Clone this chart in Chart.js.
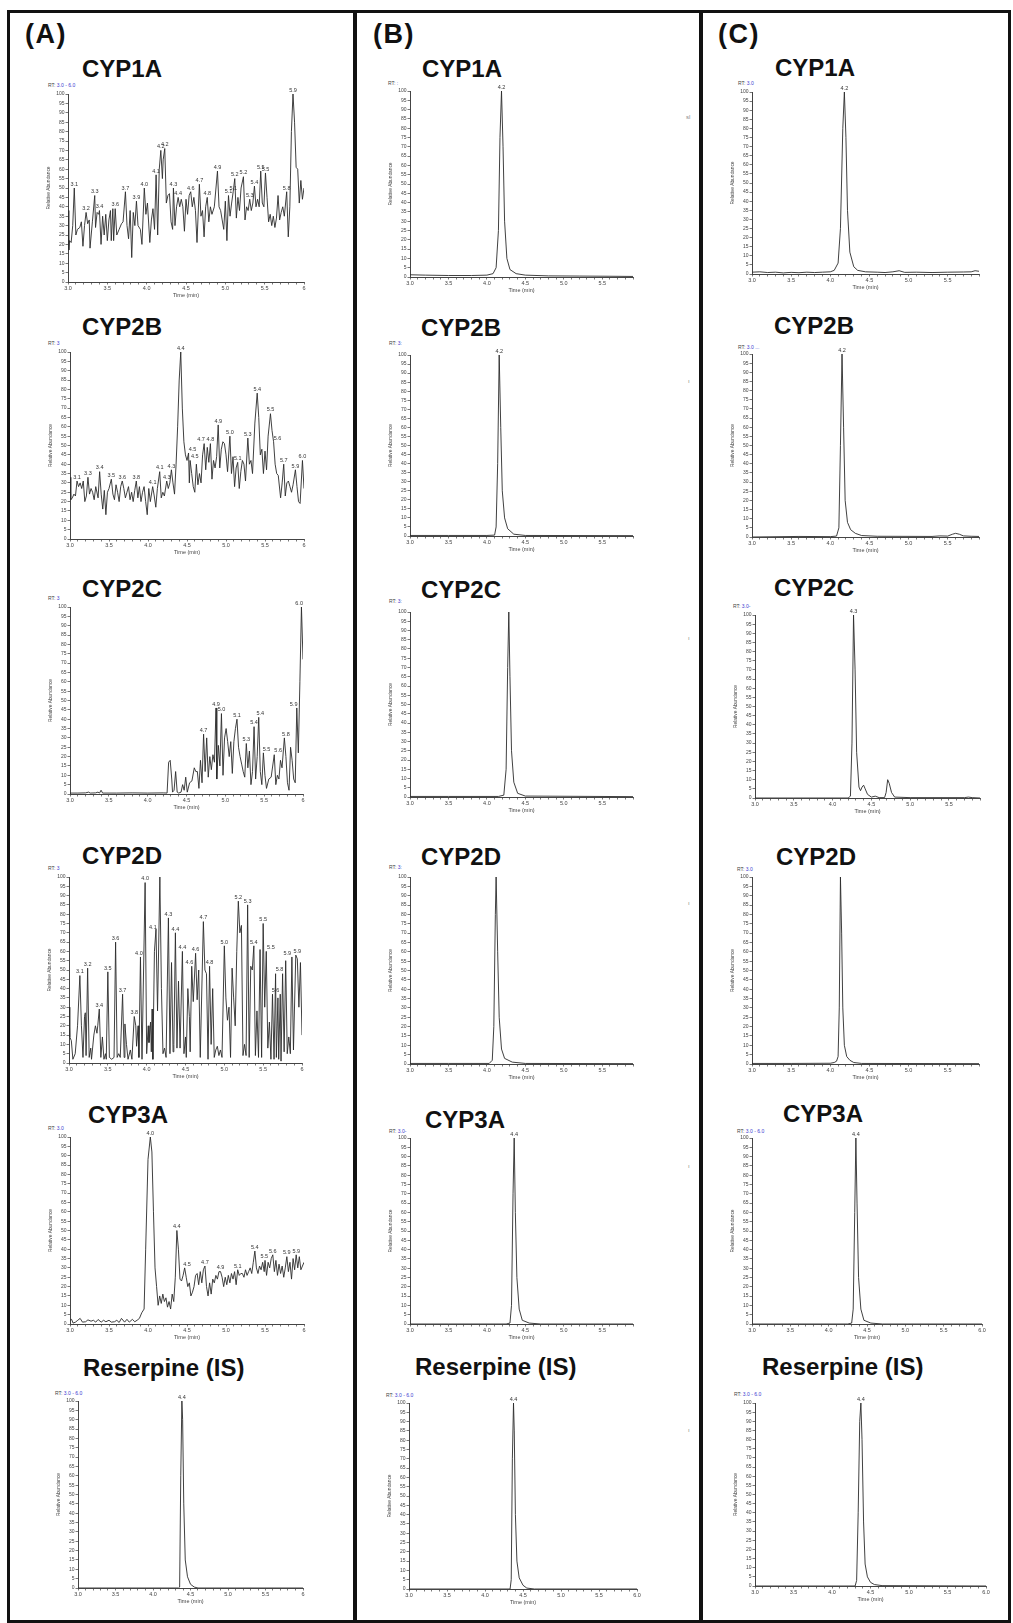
<!DOCTYPE html>
<html>
<head>
<meta charset="utf-8">
<title>Cromatogramas CYP</title>
<script src="https://cdn.jsdelivr.net/npm/chart.js@4.4.1/dist/chart.umd.min.js"></script>
<style>
  html, body { margin: 0; padding: 0; background: #fff; }
  #fig { position: relative; width: 1013px; height: 1623px; overflow: hidden; font-family: "Liberation Sans", Arial, sans-serif; }
  .linea { position: absolute; background: #111; }
  .letra { position: absolute; font-weight: bold; font-size: 27px; letter-spacing: 1.5px; color: #111; line-height: 1; transform: translateY(-50%); }
  .titulo { position: absolute; font-weight: bold; font-size: 24px; color: #111; line-height: 1; transform: translateY(-50%); white-space: nowrap; }
  .rt { position: absolute; font-size: 5px; color: #444; line-height: 1; transform: translateY(-50%); white-space: nowrap; }
  .rt span { color: #3a3ad0; }
  .marca { position: absolute; font-size: 6px; color: #888; line-height: 1; }
  canvas { position: absolute; }
</style>
</head>
<body>
<div id="fig"></div>
<script>
// ============================
// DATOS
// ============================
const columnas = ["(A)", "(B)", "(C)"];
const titulos = ["CYP1A", "CYP2B", "CYP2C", "CYP2D", "CYP3A", "Reserpine (IS)"];
const etiquetasXA = ["3.0", "3.5", "4.0", "4.5", "5.0", "5.5", "6"];
const etiquetasXBC = ["3.0", "3.5", "4.0", "4.5", "5.0", "5.5", "6.0"];

// --- Columna A
const datosA_CYP1A = [[3.00,38],[3.01,17],[3.02,22],[3.04,21],[3.06,30],[3.08,50],[3.10,25],[3.12,28],[3.15,29],[3.17,32],[3.19,19],[3.21,30],[3.23,37],[3.25,31],[3.27,33],[3.28,18],[3.31,32],[3.34,46],[3.35,29],[3.37,37],[3.39,36],[3.40,38],[3.42,20],[3.44,35],[3.46,25],[3.48,36],[3.50,22],[3.52,33],[3.54,38],[3.55,22],[3.57,39],[3.58,22],[3.60,39],[3.62,25],[3.65,28],[3.68,31],[3.70,32],[3.73,48],[3.75,30],[3.77,23],[3.79,38],[3.81,13],[3.83,37],[3.85,30],[3.87,43],[3.89,30],[3.92,28],[3.94,20],[3.97,50],[3.99,36],[4.01,42],[4.04,21],[4.06,33],[4.08,39],[4.10,28],[4.12,57],[4.14,25],[4.16,60],[4.18,70],[4.20,55],[4.21,65],[4.23,71],[4.25,42],[4.27,46],[4.29,47],[4.31,32],[4.33,28],[4.34,50],[4.36,30],[4.38,40],[4.40,45],[4.42,40],[4.44,44],[4.46,40],[4.48,27],[4.50,44],[4.52,36],[4.54,46],[4.56,48],[4.58,40],[4.60,45],[4.62,38],[4.64,21],[4.67,52],[4.69,35],[4.71,38],[4.73,24],[4.75,40],[4.77,45],[4.79,32],[4.81,40],[4.83,36],[4.86,40],[4.90,59],[4.92,40],[4.94,38],[4.96,33],[4.98,28],[5.00,43],[5.02,22],[5.04,46],[5.06,35],[5.08,42],[5.10,48],[5.12,55],[5.14,34],[5.16,45],[5.18,38],[5.20,50],[5.23,56],[5.25,33],[5.27,40],[5.29,38],[5.31,44],[5.33,38],[5.35,42],[5.37,51],[5.39,40],[5.41,44],[5.43,40],[5.45,59],[5.47,42],[5.49,40],[5.51,58],[5.53,45],[5.55,32],[5.57,36],[5.59,30],[5.61,35],[5.63,29],[5.65,34],[5.67,46],[5.69,33],[5.71,37],[5.73,40],[5.75,35],[5.78,48],[5.80,24],[5.82,40],[5.84,80],[5.86,100],[5.88,85],[5.90,61],[5.92,60],[5.94,42],[5.96,54],[5.98,44],[6.00,50]];
const picosA_CYP1A = [[3.08,50,"3.1"],[3.23,37,"3.2"],[3.34,46,"3.3"],[3.40,38,"3.4"],[3.60,39,"3.6"],[3.73,48,"3.7"],[3.87,43,"3.9"],[3.97,50,"4.0"],[4.12,57,"4.1"],[4.18,70,"4.2"],[4.23,71,"4.2"],[4.34,50,"4.3"],[4.40,45,"4.4"],[4.56,48,"4.6"],[4.67,52,"4.7"],[4.77,45,"4.8"],[4.90,59,"4.9"],[5.04,46,"5.1"],[5.10,48,"5.1"],[5.12,55,"5.2"],[5.23,56,"5.2"],[5.31,44,"5.3"],[5.37,51,"5.4"],[5.45,59,"5.5"],[5.51,58,"5.5"],[5.78,48,"5.8"],[5.86,100,"5.9"]];

const datosA_CYP2B = [[3.00,33],[3.01,21],[3.03,22],[3.05,24],[3.07,23],[3.09,31],[3.11,28],[3.13,30],[3.15,27],[3.17,31],[3.19,20],[3.21,23],[3.23,33],[3.25,24],[3.27,27],[3.29,25],[3.31,21],[3.33,28],[3.36,22],[3.38,36],[3.40,24],[3.42,16],[3.44,26],[3.46,13],[3.48,25],[3.50,27],[3.53,32],[3.55,24],[3.57,21],[3.59,29],[3.61,25],[3.63,20],[3.65,28],[3.67,31],[3.69,27],[3.71,22],[3.73,25],[3.75,28],[3.77,21],[3.79,25],[3.81,20],[3.83,26],[3.85,31],[3.87,22],[3.89,28],[3.91,20],[3.93,25],[3.95,28],[3.97,20],[3.99,13],[4.01,27],[4.03,20],[4.06,28],[4.08,23],[4.10,17],[4.12,27],[4.15,36],[4.17,22],[4.19,25],[4.21,23],[4.24,31],[4.26,27],[4.28,30],[4.30,37],[4.32,30],[4.34,24],[4.36,40],[4.38,60],[4.40,85],[4.42,100],[4.44,70],[4.46,52],[4.48,45],[4.50,42],[4.52,46],[4.53,30],[4.54,42],[4.56,35],[4.58,28],[4.60,25],[4.62,40],[4.64,29],[4.66,35],[4.68,30],[4.70,45],[4.72,51],[4.74,37],[4.76,49],[4.78,41],[4.80,51],[4.82,32],[4.84,42],[4.86,38],[4.88,44],[4.90,61],[4.92,38],[4.94,48],[4.96,52],[4.98,51],[5.00,45],[5.02,36],[5.05,55],[5.07,35],[5.09,44],[5.11,28],[5.13,38],[5.15,41],[5.17,27],[5.19,36],[5.21,42],[5.23,40],[5.25,31],[5.28,54],[5.30,40],[5.32,42],[5.34,35],[5.37,62],[5.40,78],[5.42,65],[5.44,45],[5.46,48],[5.48,35],[5.50,47],[5.52,37],[5.54,55],[5.57,67],[5.59,58],[5.61,52],[5.63,40],[5.65,35],[5.67,34],[5.70,22],[5.72,30],[5.74,40],[5.76,23],[5.78,30],[5.80,31],[5.82,28],[5.84,25],[5.86,29],[5.89,37],[5.91,28],[5.93,20],[5.95,19],[5.98,42],[6.00,27]];
const picosA_CYP2B = [[3.09,31,"3.1"],[3.23,33,"3.3"],[3.38,36,"3.4"],[3.53,32,"3.5"],[3.67,31,"3.6"],[3.85,31,"3.8"],[4.06,28,"4.1"],[4.15,36,"4.1"],[4.24,31,"4.3"],[4.30,37,"4.3"],[4.42,100,"4.4"],[4.57,46,"4.5"],[4.60,42,"4.5"],[4.68,51,"4.7"],[4.80,51,"4.8"],[4.90,61,"4.9"],[5.05,55,"5.0"],[5.15,41,"5.1"],[5.28,54,"5.3"],[5.40,78,"5.4"],[5.57,67,"5.5"],[5.66,52,"5.6"],[5.74,40,"5.7"],[5.89,37,"5.9"],[5.98,42,"6.0"]];

const datosA_CYP2C = [[3.00,0.5],[3.10,0.5],[3.20,0.6],[3.24,1],[3.26,0.5],[3.33,0.6],[3.36,1],[3.38,0.5],[3.40,2],[3.42,0.5],[3.60,0.5],[3.80,0.6],[4.00,0.5],[4.20,0.6],[4.25,0.5],[4.27,17],[4.29,18],[4.31,8],[4.32,1],[4.34,2],[4.36,12],[4.38,1],[4.40,0.5],[4.43,1],[4.45,5],[4.47,2],[4.49,9],[4.51,1],[4.54,6],[4.57,7],[4.60,14],[4.62,12],[4.64,12],[4.66,3],[4.68,18],[4.70,6],[4.72,32],[4.74,12],[4.76,30],[4.78,9],[4.80,20],[4.82,13],[4.84,21],[4.86,17],[4.88,46],[4.89,8],[4.91,26],[4.93,15],[4.95,43],[4.97,10],[4.99,30],[5.01,35],[5.03,28],[5.05,20],[5.07,28],[5.09,11],[5.11,28],[5.13,35],[5.15,40],[5.17,25],[5.19,20],[5.21,16],[5.23,12],[5.25,9],[5.27,27],[5.29,14],[5.31,23],[5.33,5],[5.35,12],[5.37,36],[5.39,8],[5.41,20],[5.43,41],[5.45,12],[5.47,5],[5.49,22],[5.51,10],[5.53,3],[5.56,8],[5.59,9],[5.63,21],[5.65,5],[5.67,10],[5.69,8],[5.71,18],[5.73,14],[5.76,30],[5.78,20],[5.80,6],[5.82,2],[5.84,25],[5.86,18],[5.88,8],[5.90,6],[5.92,46],[5.94,22],[5.96,60],[5.98,100],[6.00,72]];
const picosA_CYP2C = [[4.72,32,"4.7"],[4.88,46,"4.9"],[4.95,43,"5.0"],[5.15,40,"5.1"],[5.27,27,"5.3"],[5.37,36,"5.4"],[5.45,41,"5.4"],[5.53,22,"5.5"],[5.68,21,"5.6"],[5.78,30,"5.8"],[5.88,46,"5.9"],[5.95,100,"6.0"]];

const datosA_CYP2D = [[3.00,30],[3.01,14],[3.03,12],[3.05,2],[3.08,5],[3.11,20],[3.14,47],[3.16,20],[3.18,3],[3.20,25],[3.21,27],[3.22,4],[3.24,51],[3.26,3],[3.28,8],[3.29,2],[3.32,15],[3.34,20],[3.36,16],[3.37,20],[3.39,29],[3.41,3],[3.43,14],[3.45,2],[3.47,5],[3.48,2],[3.50,49],[3.52,3],[3.55,2],[3.58,3],[3.60,65],[3.62,3],[3.64,5],[3.66,3],[3.69,37],[3.71,3],[3.72,21],[3.74,10],[3.76,2],[3.79,7],[3.81,2],[3.84,25],[3.86,20],[3.87,9],[3.89,20],[3.90,3],[3.92,57],[3.94,2],[3.98,97],[4.00,5],[4.02,20],[4.03,11],[4.05,22],[4.06,6],[4.07,29],[4.08,2],[4.10,60],[4.12,72],[4.14,28],[4.17,100],[4.19,40],[4.21,5],[4.23,8],[4.25,3],[4.28,78],[4.30,5],[4.32,54],[4.34,6],[4.35,10],[4.37,70],[4.39,8],[4.41,44],[4.43,8],[4.46,60],[4.48,5],[4.50,14],[4.51,3],[4.53,40],[4.55,25],[4.56,6],[4.58,52],[4.60,33],[4.63,59],[4.65,34],[4.67,50],[4.69,3],[4.73,76],[4.75,50],[4.77,48],[4.79,2],[4.81,52],[4.83,10],[4.85,40],[4.87,3],[4.89,7],[4.91,9],[4.93,4],[4.95,7],[4.97,3],[5.00,63],[5.02,35],[5.04,23],[5.06,30],[5.08,3],[5.10,51],[5.12,35],[5.14,20],[5.16,60],[5.18,87],[5.20,70],[5.22,74],[5.24,4],[5.26,10],[5.28,4],[5.30,85],[5.32,3],[5.34,52],[5.36,50],[5.38,63],[5.40,4],[5.42,28],[5.44,3],[5.46,61],[5.48,3],[5.50,75],[5.52,30],[5.54,60],[5.56,8],[5.58,22],[5.60,2],[5.62,37],[5.64,2],[5.66,48],[5.67,3],[5.69,35],[5.70,2],[5.72,37],[5.73,1],[5.75,48],[5.77,6],[5.79,55],[5.81,5],[5.83,14],[5.85,5],[5.87,57],[5.89,7],[5.92,58],[5.94,56],[5.96,30],[5.98,54],[6.00,15]];
const picosA_CYP2D = [[3.14,47,"3.1"],[3.24,51,"3.2"],[3.39,29,"3.4"],[3.50,49,"3.5"],[3.60,65,"3.6"],[3.69,37,"3.7"],[3.84,25,"3.8"],[3.90,57,"4.0"],[3.98,97,"4.0"],[4.08,71,"4.1"],[4.28,78,"4.3"],[4.37,70,"4.4"],[4.46,60,"4.4"],[4.55,52,"4.6"],[4.63,59,"4.6"],[4.73,76,"4.7"],[4.81,52,"4.8"],[5.00,63,"5.0"],[5.18,87,"5.2"],[5.30,85,"5.3"],[5.38,63,"5.4"],[5.50,75,"5.5"],[5.60,60,"5.5"],[5.66,37,"5.6"],[5.71,48,"5.8"],[5.81,57,"5.9"],[5.94,58,"5.9"]];

const datosA_CYP3A = [[3.00,2],[3.02,2.5],[3.04,0.5],[3.07,1],[3.10,2],[3.13,3],[3.16,1],[3.20,1.2],[3.23,2.2],[3.27,1.5],[3.30,2],[3.33,1],[3.36,2.4],[3.40,1],[3.43,2],[3.46,1.2],[3.50,2],[3.53,1],[3.57,1.2],[3.60,2],[3.63,0.8],[3.66,3],[3.70,1],[3.73,2.5],[3.76,1],[3.80,2.5],[3.83,1.2],[3.86,2],[3.89,3],[3.92,6],[3.95,8],[3.97,40],[4.00,88],[4.03,100],[4.05,92],[4.07,60],[4.09,30],[4.11,20],[4.13,10],[4.15,15],[4.17,11],[4.19,16],[4.21,12],[4.23,14],[4.25,9],[4.27,12],[4.29,8],[4.31,16],[4.33,12],[4.35,25],[4.37,50],[4.39,40],[4.41,24],[4.43,23],[4.45,26],[4.47,30],[4.49,25],[4.51,20],[4.53,22],[4.55,15],[4.57,17],[4.59,20],[4.61,26],[4.63,27],[4.65,21],[4.67,28],[4.69,22],[4.71,29],[4.73,31],[4.75,20],[4.77,15],[4.79,22],[4.81,16],[4.83,24],[4.85,22],[4.87,26],[4.89,24],[4.91,28],[4.93,28],[4.95,25],[4.97,20],[4.99,25],[5.01,21],[5.03,26],[5.05,22],[5.07,27],[5.09,24],[5.11,28],[5.13,21],[5.15,29],[5.17,26],[5.19,27],[5.21,27],[5.23,25],[5.25,29],[5.27,26],[5.29,28],[5.31,30],[5.33,27],[5.35,33],[5.37,39],[5.39,30],[5.41,27],[5.43,31],[5.45,29],[5.47,33],[5.49,28],[5.50,34],[5.52,26],[5.54,33],[5.56,30],[5.58,35],[5.60,37],[5.62,28],[5.64,34],[5.66,26],[5.68,32],[5.70,27],[5.72,31],[5.74,25],[5.76,30],[5.78,36],[5.80,28],[5.82,33],[5.84,24],[5.86,35],[5.88,29],[5.90,37],[5.92,30],[5.94,36],[5.96,29],[5.98,31],[6.00,33]];
const picosA_CYP3A = [[4.03,100,"4.0"],[4.37,50,"4.4"],[4.50,30,"4.5"],[4.73,31,"4.7"],[4.93,28,"4.9"],[5.15,29,"5.1"],[5.37,39,"5.4"],[5.49,34,"5.5"],[5.60,37,"5.6"],[5.78,36,"5.9"],[5.90,37,"5.9"]];

const datosA_Reserpina = [[3.00,0],[4.00,0],[4.34,0],[4.355,0.5],[4.37,60],[4.385,100],[4.395,90],[4.41,45],[4.43,15],[4.46,6],[4.50,2],[4.55,0.5],[4.60,0],[6.00,0]];
const picosA_Reserpina = [[4.385,100,"4.4"]];

// --- Columna B
const datosB_CYP1A = [[3.00,1.2],[3.20,1.0],[3.50,0.8],[3.80,0.8],[4.00,1.0],[4.08,1.8],[4.12,5],[4.15,25],[4.17,75],[4.19,100],[4.21,70],[4.23,30],[4.26,10],[4.30,4],[4.38,1.8],[4.50,1.0],[4.80,0.6],[5.20,0.5],[5.60,0.4],[5.90,0.3]];
const picosB_CYP1A = [[4.19,100,"4.2"]];
const datosB_CYP2B = [[3.00,0.3],[3.50,0.3],[4.00,0.3],[4.10,0.5],[4.12,5],[4.14,40],[4.16,100],[4.18,60],[4.20,25],[4.23,10],[4.27,4],[4.35,1],[4.50,0.3],[5.90,0.2]];
const picosB_CYP2B = [[4.16,100,"4.2"]];
const datosB_CYP2C = [[3.00,0.3],[3.50,0.3],[4.15,0.3],[4.22,1],[4.25,15],[4.27,70],[4.285,100],[4.30,65],[4.32,25],[4.35,8],[4.40,2],[4.50,0.5],[5.90,0.2]];
const picosB_CYP2C = [];
const datosB_CYP2D = [[3.00,0.3],[3.50,0.3],[4.03,0.3],[4.07,2],[4.09,20],[4.11,80],[4.12,100],[4.14,60],[4.16,25],[4.19,8],[4.23,3],[4.33,1],[4.50,0.3],[5.90,0.2]];
const picosB_CYP2D = [];
const datosB_CYP3A = [[3.00,0],[3.50,0],[4.25,0],[4.30,0.5],[4.32,10],[4.34,70],[4.355,100],[4.37,60],[4.39,25],[4.42,8],[4.46,2],[4.55,0.5],[4.70,0],[5.90,0]];
const picosB_CYP3A = [[4.355,100,"4.4"]];
const datosB_Reserpina = [[3.00,0],[4.00,0],[4.33,0],[4.345,5],[4.36,70],[4.375,100],[4.385,85],[4.40,40],[4.42,15],[4.45,6],[4.50,2],[4.55,0.5],[4.65,0],[6.00,0]];
const picosB_Reserpina = [[4.375,100,"4.4"]];

// --- Columna C
const datosC_CYP1A = [[3.00,1],[3.10,1.2],[3.20,0.8],[3.30,1],[3.40,0.6],[3.50,0.9],[3.60,0.7],[3.70,1],[3.80,0.8],[3.90,1],[4.00,1.2],[4.05,2],[4.10,6],[4.13,25],[4.16,80],[4.18,100],[4.20,75],[4.22,35],[4.25,12],[4.30,4],[4.35,2],[4.45,1.2],[4.60,1],[4.70,0.8],[4.80,1.2],[4.88,1.8],[4.95,0.9],[5.10,1],[5.30,0.8],[5.50,1],[5.70,1.1],[5.80,1.2],[5.85,1.8],[5.90,1.5]];
const picosC_CYP1A = [[4.18,100,"4.2"]];
const datosC_CYP2B = [[3.00,0],[3.60,0.3],[4.00,0.2],[4.08,0.5],[4.11,5],[4.13,50],[4.15,100],[4.17,60],[4.19,20],[4.22,8],[4.26,4],[4.32,2],[4.40,0.8],[4.60,0.4],[5.30,0.3],[5.40,0.6],[5.50,0.5],[5.56,1.5],[5.60,2],[5.65,1.5],[5.70,0.6],[5.80,0.4],[5.90,0.3]];
const picosC_CYP2B = [[4.15,100,"4.2"]];
const datosC_CYP2C = [[3.00,0],[3.50,0],[4.20,0],[4.23,1],[4.25,30],[4.27,100],[4.29,70],[4.31,25],[4.34,6],[4.36,4],[4.38,6],[4.40,7],[4.42,5],[4.45,2],[4.50,0.5],[4.55,1],[4.60,0.2],[4.67,0.2],[4.69,3],[4.71,10],[4.73,8],[4.76,3],[4.80,0.5],[5.00,0.2],[5.70,0.2],[5.75,0.5],[5.80,0.2],[5.90,0]];
const picosC_CYP2C = [[4.27,100,"4.3"]];
const datosC_CYP2D = [[3.00,0.3],[3.50,0.3],[4.00,0.4],[4.05,0.8],[4.08,1.5],[4.10,4],[4.115,30],[4.13,100],[4.145,70],[4.16,30],[4.18,10],[4.21,4],[4.25,2],[4.30,0.8],[4.40,0.3],[5.90,0.2]];
const picosC_CYP2D = [];
const datosC_CYP3A = [[3.00,0],[3.50,0],[4.25,0],[4.30,0.5],[4.32,8],[4.34,60],[4.355,100],[4.37,65],[4.39,25],[4.42,8],[4.46,2],[4.55,0.5],[4.70,0],[6.00,0]];
const picosC_CYP3A = [[4.355,100,"4.4"]];
const datosC_Reserpina = [[3.00,0],[4.00,0],[4.30,0],[4.32,3],[4.34,40],[4.36,90],[4.375,100],[4.39,80],[4.41,35],[4.43,12],[4.46,5],[4.50,2],[4.55,0.8],[4.65,0.2],[6.00,0]];
const picosC_Reserpina = [[4.375,100,"4.4"]];

// ============================
// POSICIONES (área de trazado, título, RT)
// ============================
const paneles = [
  { area: [68, 94, 304, 282],    xmax: 6,   xl: etiquetasXA, t: 0, tit: [82, 69],    rt: [48, 85, "3.0 - 6.0"], datos: datosA_CYP1A, picos: picosA_CYP1A },
  { area: [70, 352, 304, 539],   xmax: 6,   xl: etiquetasXA, t: 1, tit: [82, 327],   rt: [48, 343, "3"],        datos: datosA_CYP2B, picos: picosA_CYP2B },
  { area: [70, 607, 303, 794],   xmax: 6,   xl: etiquetasXA, t: 2, tit: [82, 589],   rt: [48, 598, "3"],        datos: datosA_CYP2C, picos: picosA_CYP2C },
  { area: [69, 877, 302, 1063],  xmax: 6,   xl: etiquetasXA, t: 3, tit: [82, 856],   rt: [48, 868, "3"],        datos: datosA_CYP2D, picos: picosA_CYP2D },
  { area: [70, 1137, 304, 1324], xmax: 6,   xl: etiquetasXA, t: 4, tit: [88, 1115],  rt: [48, 1128, "3.0"],     datos: datosA_CYP3A, picos: picosA_CYP3A },
  { area: [78, 1401, 303, 1588], xmax: 6,   xl: etiquetasXA, t: 5, tit: [83, 1368],  rt: [55, 1393, "3.0 - 6.0"], datos: datosA_Reserpina, picos: picosA_Reserpina },

  { area: [410, 91, 633, 277],   xmax: 5.9, xl: etiquetasXBC, t: 0, tit: [422, 69],  rt: [388, 83, ":"],       datos: datosB_CYP1A, picos: picosB_CYP1A },
  { area: [410, 355, 633, 536],  xmax: 5.9, xl: etiquetasXBC, t: 1, tit: [421, 328], rt: [389, 343, "3:"],     datos: datosB_CYP2B, picos: picosB_CYP2B },
  { area: [410, 612, 633, 797],  xmax: 5.9, xl: etiquetasXBC, t: 2, tit: [421, 590], rt: [389, 601, "3:"],     datos: datosB_CYP2C, picos: picosB_CYP2C },
  { area: [410, 877, 633, 1064], xmax: 5.9, xl: etiquetasXBC, t: 3, tit: [421, 857], rt: [389, 867, "3:"],     datos: datosB_CYP2D, picos: picosB_CYP2D },
  { area: [410, 1138, 633, 1324], xmax: 5.9, xl: etiquetasXBC, t: 4, tit: [425, 1120], rt: [389, 1131, "3.0-"], datos: datosB_CYP3A, picos: picosB_CYP3A },
  { area: [409, 1403, 637, 1589], xmax: 6,  xl: etiquetasXBC, t: 5, tit: [415, 1367], rt: [386, 1395, "3.0 - 6.0"], datos: datosB_Reserpina, picos: picosB_Reserpina },

  { area: [752, 92, 979, 274],   xmax: 5.9, xl: etiquetasXBC, t: 0, tit: [775, 68],  rt: [738, 83, "3.0"],     datos: datosC_CYP1A, picos: picosC_CYP1A },
  { area: [752, 354, 979, 537],  xmax: 5.9, xl: etiquetasXBC, t: 1, tit: [774, 326], rt: [738, 347, "3.0 ..."], datos: datosC_CYP2B, picos: picosC_CYP2B },
  { area: [755, 615, 980, 798],  xmax: 5.9, xl: etiquetasXBC, t: 2, tit: [774, 588], rt: [733, 606, "3.0-"],    datos: datosC_CYP2C, picos: picosC_CYP2C },
  { area: [752, 877, 979, 1064], xmax: 5.9, xl: etiquetasXBC, t: 3, tit: [776, 857], rt: [737, 869, "3.0"],     datos: datosC_CYP2D, picos: picosC_CYP2D },
  { area: [752, 1138, 982, 1324], xmax: 6,  xl: etiquetasXBC, t: 4, tit: [783, 1114], rt: [737, 1131, "3.0 - 6.0"], datos: datosC_CYP3A, picos: picosC_CYP3A },
  { area: [755, 1403, 986, 1586], xmax: 6,  xl: etiquetasXBC, t: 5, tit: [762, 1367], rt: [734, 1394, "3.0 - 6.0"], datos: datosC_Reserpina, picos: picosC_Reserpina }
];

const fig = document.getElementById("fig");
Chart.defaults.font.family = "'Liberation Sans', Arial, sans-serif";
Chart.defaults.color = "#444";

// ============================
// MARCO Y TEXTOS
// ============================
function linea(l, t, w, h) {
  const d = document.createElement("div");
  d.className = "linea";
  d.style.cssText = `left:${l}px;top:${t}px;width:${w}px;height:${h}px;`;
  fig.appendChild(d);
}
linea(7, 10, 1004, 3);
linea(7, 10, 3, 1613);
linea(353, 10, 4, 1613);
linea(699, 10, 4, 1613);
linea(1008, 10, 3, 1613);
linea(7, 1620, 1004, 3);

function texto(cls, l, y, html) {
  const d = document.createElement("div");
  d.className = cls;
  d.style.left = l + "px";
  d.style.top = y + "px";
  d.innerHTML = html;
  fig.appendChild(d);
}
[25, 373, 718].forEach((x, i) => texto("letra", x, 34, columnas[i]));

// marcas sueltas a la derecha de la columna B
[[686, 114, "sl"], [688, 378, "ı"], [688, 635, "ı"], [688, 900, "ı"], [688, 1163, "ı"], [688, 1427, "ı"]]
  .forEach(([x, y, s]) => texto("marca", x, y, s));

// ============================
// ETIQUETAS DE PICOS
// ============================
const pluginPicos = {
  id: "picos",
  afterDatasetsDraw(chart) {
    const items = chart.data.datasets[0].picos || [];
    const ctx = chart.ctx;
    const xs = chart.scales.x, ys = chart.scales.y;
    ctx.save();
    ctx.font = "5.5px 'Liberation Sans', Arial, sans-serif";
    ctx.fillStyle = "#333";
    ctx.textAlign = "center";
    ctx.textBaseline = "bottom";
    items.forEach(p => {
      ctx.fillText(p[2], xs.getPixelForValue(p[0]), ys.getPixelForValue(p[1]) - 1);
    });
    ctx.restore();
  }
};

// ============================
// CREAR CADA CROMATOGRAMA
// ============================
const Y_W = 22, PAD_T = 8, PAD_R = 8, X_H = 17;

function crearPanel(p) {
  const [l, t, r, b] = p.area;
  const w = r - l + Y_W + PAD_R;
  const h = b - t + PAD_T + X_H;

  texto("titulo", p.tit[0], p.tit[1], titulos[p.t]);
  texto("rt", p.rt[0], p.rt[1], "RT: <span>" + p.rt[2] + "</span>");

  const cv = document.createElement("canvas");
  cv.width = w;
  cv.height = h;
  cv.style.left = (l - Y_W) + "px";
  cv.style.top = (t - PAD_T) + "px";
  cv.style.width = w + "px";
  cv.style.height = h + "px";
  fig.appendChild(cv);

  new Chart(cv, {
    type: "line",
    data: {
      datasets: [{
        data: p.datos.map(d => ({ x: d[0], y: d[1] })),
        picos: p.picos,
        borderColor: "#2b2b2b",
        borderWidth: 0.9,
        pointRadius: 0,
        tension: 0,
        fill: false
      }]
    },
    options: {
      responsive: false,
      animation: false,
      devicePixelRatio: 1,
      layout: { padding: { top: PAD_T, right: PAD_R, left: 0, bottom: 0 } },
      plugins: { legend: { display: false }, tooltip: { enabled: false } },
      scales: {
        x: {
          type: "linear",
          min: 3,
          max: p.xmax,
          afterFit: s => { s.height = X_H; },
          ticks: {
            stepSize: 0.1,
            autoSkip: false,
            maxRotation: 0,
            padding: 1,
            font: { size: 5.5 },
            color: "#444",
            callback: v => {
              const k = Math.round((v - 3) * 10);
              return k % 5 === 0 ? p.xl[k / 5] : "";
            }
          },
          grid: { drawOnChartArea: false, tickLength: 2.5, color: "#555", lineWidth: 0.8 },
          border: { display: true, color: "#444", width: 1 },
          title: { display: true, text: "Time (min)", font: { size: 5.5 }, color: "#444", padding: 0 }
        },
        y: {
          min: 0,
          max: 100,
          afterFit: s => { s.width = Y_W; },
          ticks: { stepSize: 5, autoSkip: false, padding: 1, font: { size: 5 }, color: "#444" },
          grid: { drawOnChartArea: false, tickLength: 2.5, color: "#555", lineWidth: 0.8 },
          border: { display: true, color: "#444", width: 1 },
          title: { display: true, text: "Relative Abundance", font: { size: 4.8 }, color: "#444", padding: 0 }
        }
      }
    },
    plugins: [pluginPicos]
  });
}

// ============================
// INICIO
// ============================
paneles.forEach(crearPanel);
</script>
</body>
</html>
